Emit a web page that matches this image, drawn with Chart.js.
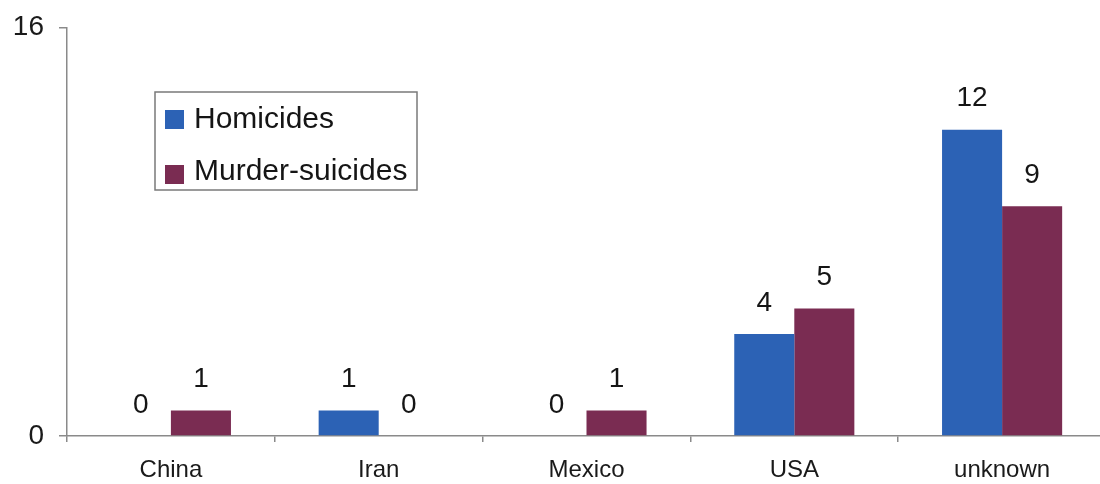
<!DOCTYPE html>
<html>
<head>
<meta charset="utf-8">
<script src="https://cdn.jsdelivr.net/npm/chart.js"></script>
<style>
  html, body { margin: 0; padding: 0; background: #fff; overflow: hidden; }
  #wrap { width: 1108px; height: 484px; }
</style>
</head>
<body>
<div id="wrap"><canvas id="chart"></canvas></div>
<script>
const countries = ["China", "Iran", "Mexico", "USA", "unknown"];
const homicides = [0, 1, 0, 4, 12];
const murderSuicides = [1, 0, 1, 5, 9];
const yTicks = [0, 16];

const FONT = "Arial, 'Liberation Sans', sans-serif";

// value written above every bar, zero bars included
const valueLabels = {
    id: "valueLabels",
    afterDatasetsDraw(chart) {
        const ctx = chart.ctx;
        ctx.save();
        ctx.font = "28px " + FONT;
        ctx.fillStyle = "#151515";
        ctx.textAlign = "center";
        ctx.textBaseline = "middle";
        chart.data.datasets.forEach((ds, i) => {
            chart.getDatasetMeta(i).data.forEach((bar, j) => {
                ctx.fillText(String(ds.data[j]), bar.x, bar.y - 31);
            });
        });
        ctx.restore();
    }
};

// boxed legend floating inside the plot
const boxLegend = {
    id: "boxLegend",
    afterDraw(chart) {
        const ctx = chart.ctx;
        const x = 155, y = 92, w = 262, h = 98;
        ctx.save();
        ctx.strokeStyle = "#7a7a7a";
        ctx.lineWidth = 1.5;
        ctx.strokeRect(x, y, w, h);
        ctx.font = "30px " + FONT;
        ctx.textBaseline = "alphabetic";
        chart.data.datasets.forEach((ds, i) => {
            const base = 128 + i * 52;
            ctx.fillStyle = ds.backgroundColor;
            ctx.fillRect(165, base - 18 + i * 3, 19, 19);
            ctx.fillStyle = "#151515";
            ctx.fillText(ds.label, 194, base);
        });
        ctx.restore();
    }
};

new Chart(document.getElementById("chart"), {
    type: "bar",
    data: {
        labels: countries,
        datasets: [
            { label: "Homicides", data: homicides, backgroundColor: "#2c62b5" },
            { label: "Murder-suicides", data: murderSuicides, backgroundColor: "#7a2c52" }
        ]
    },
    options: {
        responsive: true,
        maintainAspectRatio: false,
        animation: false,
        events: [],
        categoryPercentage: 0.578,
        barPercentage: 1,
        layout: { padding: { left: 13, top: 17, right: 2, bottom: 0 } },
        plugins: {
            legend: { display: false },
            tooltip: { enabled: false }
        },
        scales: {
            x: {
                afterFit(axis) { axis.height = 48; },
                grid: { drawOnChartArea: false, tickLength: 6, color: "#8a8a8a", lineWidth: 1.5 },
                border: { color: "#8a8a8a", width: 1.5 },
                ticks: { color: "#1a1a1a", font: { size: 24, family: FONT }, padding: 14 }
            },
            y: {
                min: yTicks[0],
                max: yTicks[yTicks.length - 1],
                afterBuildTicks(axis) {
                    axis.ticks = yTicks.map(v => ({ value: v }));
                },
                afterFit(axis) { axis.width = 54; },
                grid: { drawOnChartArea: false, tickLength: 8, color: "#8a8a8a", lineWidth: 1.5 },
                border: { color: "#8a8a8a", width: 1.5 },
                ticks: { color: "#1a1a1a", font: { size: 28, family: FONT, lineHeight: 0.9 }, padding: 15 }
            }
        }
    },
    plugins: [valueLabels, boxLegend]
});
</script>
</body>
</html>
